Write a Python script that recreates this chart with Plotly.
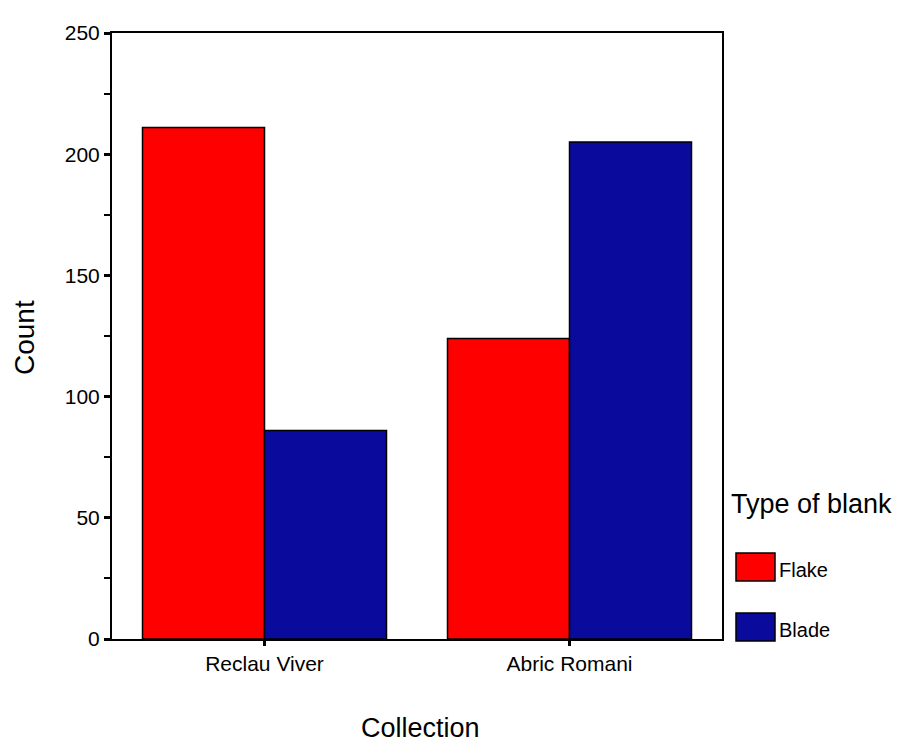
import plotly.graph_objects as go

categories = ["Reclau Viver", "Abric Romani"]
flake = [211, 124]
blade = [86, 205]
series_names = ["Flake", "Blade"]
colors = ["#FF0000", "#0A0A9C"]
y_ticks = [0, 50, 100, 150, 200, 250]

W, H = 901, 742
L, R, T, B = 112, 722, 33, 639

def px(x):
    return (x - L) / (R - L)

def py(y):
    return (B - y) / (B - T)

fig = go.Figure()
for name, vals, col in zip(series_names, [flake, blade], colors):
    fig.add_trace(go.Bar(x=categories, y=vals, name=name,
                         marker=dict(color=col, line=dict(color="black", width=1.5)),
                         showlegend=False))

fig.update_layout(
    width=W, height=H,
    margin=dict(l=L, r=W - R, t=T, b=H - B),
    paper_bgcolor="white", plot_bgcolor="white",
    barmode="group", bargap=0.2, bargroupgap=0,
    font=dict(family="Arial, Liberation Sans, sans-serif", color="black"),
    xaxis=dict(range=[-0.5, 1.5], showline=True, linecolor="black", linewidth=2, mirror=True,
               ticks="outside", ticklen=5, tickwidth=3, tickcolor="black",
               tickfont=dict(size=21), showgrid=False, automargin=False),
    yaxis=dict(range=[0, 250], showline=True, linecolor="black", linewidth=2, mirror=True,
               tickvals=y_ticks, ticks="outside", ticklen=6, tickwidth=3, tickcolor="black",
               tickfont=dict(size=21), showgrid=False, zeroline=False, automargin=False,
               minor=dict(dtick=25, ticks="outside", ticklen=6, tickwidth=2, tickcolor="black")),
)

# axis titles
fig.add_annotation(text="Collection", x=px(420), y=py(728), xref="paper", yref="paper",
                   xanchor="center", yanchor="middle", showarrow=False, font=dict(size=27))
fig.add_annotation(text="Count", x=px(25), y=py(338), xref="paper", yref="paper", textangle=-90,
                   xanchor="center", yanchor="middle", showarrow=False, font=dict(size=28))

# custom legend
fig.add_annotation(text="Type of blank", x=px(729), y=py(504), xref="paper", yref="paper",
                   xanchor="left", yanchor="middle", showarrow=False, font=dict(size=27))
swatches = [(553, 581), (613, 641)]
for name, col, (y0, y1) in zip(series_names, colors, swatches):
    fig.add_shape(type="rect", xref="paper", yref="paper", x0=px(736), x1=px(775), y0=py(y1), y1=py(y0),
                  fillcolor=col, line=dict(color="black", width=1.5))
    fig.add_annotation(text=name, x=px(777), y=py((y0 + y1) / 2 + 3), xref="paper", yref="paper",
                       xanchor="left", yanchor="middle", showarrow=False, font=dict(size=20))

fig.write_html("out.html", config={"displayModeBar": False},
               post_script="document.body.style.margin='0';")
